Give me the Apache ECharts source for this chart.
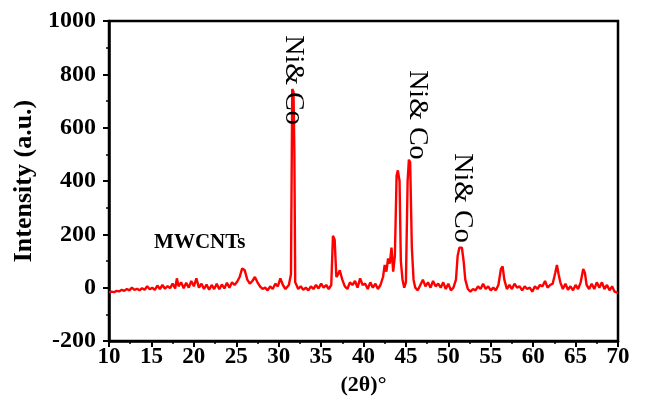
<!DOCTYPE html>
<html><head><meta charset="utf-8">
<script src="https://cdn.jsdelivr.net/npm/echarts@6/dist/echarts.min.js"></script>
<style>html,body{margin:0;padding:0;background:#fff}#c{width:650px;height:408px}</style>
</head><body><div id="c"></div>
<script>
// 2theta (degrees) and intensity (a.u.)
const twoTheta = [
10.0,10.3,10.6,10.9,11.2,11.5,11.8,12.1,12.4,12.7,13.0,13.3,13.6,13.9,14.2,14.5,14.8,15.1,15.4,15.7,
16.0,16.3,16.6,16.9,17.2,17.5,17.8,18.0,18.2,18.5,18.8,19.1,19.4,19.7,20.0,20.3,20.6,20.9,21.2,21.5,
21.8,22.1,22.4,22.7,23.0,23.3,23.6,23.9,24.2,24.5,24.8,25.1,25.4,25.7,26.0,26.3,26.6,26.9,27.2,27.5,
27.8,28.1,28.4,28.7,29.0,29.3,29.6,29.9,30.2,30.5,30.8,31.0,31.2,31.45,31.6,31.75,31.85,31.95,32.1,32.3,
32.6,32.9,33.2,33.5,33.8,34.1,34.4,34.7,35.0,35.3,35.6,35.9,36.2,36.4,36.6,36.8,37.0,37.2,37.5,37.8,
38.1,38.4,38.7,39.0,39.3,39.6,39.9,40.2,40.5,40.8,41.1,41.4,41.7,42.0,42.3,42.5,42.7,42.9,43.1,43.3,
43.5,43.7,43.9,44.05,44.25,44.4,44.6,44.8,45.0,45.2,45.35,45.5,45.7,45.9,46.1,46.4,46.7,47.0,47.3,47.6,
47.9,48.2,48.5,48.8,49.1,49.4,49.7,50.0,50.3,50.6,50.9,51.1,51.3,51.6,51.8,52.0,52.3,52.6,52.9,53.2,
53.5,53.8,54.1,54.4,54.7,55.0,55.3,55.6,55.9,56.2,56.4,56.6,56.9,57.2,57.5,57.8,58.1,58.4,58.7,59.0,
59.3,59.6,59.9,60.2,60.5,60.8,61.1,61.4,61.7,62.0,62.3,62.6,62.8,63.0,63.2,63.5,63.8,64.1,64.4,64.7,
65.0,65.3,65.6,65.9,66.1,66.3,66.6,66.9,67.2,67.5,67.8,68.1,68.4,68.7,69.0,69.3,69.6,70.0
];
const intensity = [
-18,-15,-17,-12,-14,-8,-12,-5,-10,0,-8,-4,-10,-2,-8,5,-6,0,-8,8,
-5,10,-4,6,-2,15,-3,35,5,20,-2,18,0,25,5,35,0,15,-5,12,
-8,10,-5,15,-6,12,-3,18,0,20,10,22,40,72,65,30,15,25,40,20,
5,-5,0,-10,5,-5,15,5,35,10,-5,0,10,50,745,735,510,20,10,-5,
5,-8,0,-10,5,-5,10,-3,15,0,10,-5,10,195,180,40,50,65,30,5,
-5,20,10,25,0,35,10,15,-5,20,0,15,-5,10,40,85,60,110,90,150,
60,120,420,440,400,100,30,0,20,400,480,470,150,30,0,-10,10,30,5,20,
0,25,5,15,0,20,-5,15,-10,0,30,120,150,150,100,30,-5,-15,-5,-10,
5,-5,15,-5,5,-10,0,-10,10,70,80,30,-5,10,-5,15,0,5,-10,5,
-5,0,-15,5,-5,10,5,25,0,10,15,55,85,50,20,-5,15,-8,5,-10,
10,-5,20,70,55,10,-5,15,-5,20,0,20,-5,10,-10,5,-15,-20
];
const xTicks = {min: 10, max: 70, interval: 5};
const yTicks = {min: -200, max: 1000, interval: 200};
const annotations = [
  {text: 'Ni& Co', at: [31.7, 779], rotate: true},
  {text: 'Ni& Co', at: [46.4, 648], rotate: true},
  {text: 'Ni& Co', at: [51.6, 336], rotate: true},
  {text: 'MWCNTs', at: [20.7, 168], rotate: false}
];

const font = '"Liberation Serif","Times New Roman",serif';
const chart = echarts.init(document.getElementById('c'), null, {renderer: 'canvas'});
const data = twoTheta.map((x, i) => [x, intensity[i]]);
chart.setOption({
  animation: false,
  backgroundColor: '#fff',
  grid: {left: 109, top: 21, width: 509, height: 320, show: true, borderColor: '#000', borderWidth: 2.5, backgroundColor: 'transparent'},
  xAxis: {
    type: 'value', min: xTicks.min, max: xTicks.max, interval: xTicks.interval,
    name: '(2θ)°', nameLocation: 'middle', nameGap: 29,
    nameTextStyle: {fontFamily: font, fontWeight: 'bold', fontSize: 22, color: '#000'},
    axisLine: {show: true, onZero: false, lineStyle: {color: '#000', width: 2.5}},
    axisTick: {show: true, inside: false, length: 6, lineStyle: {color: '#000', width: 2}},
    minorTick: {show: true, splitNumber: 2, length: 3, lineStyle: {color: '#000', width: 1.5}},
    axisLabel: {margin: 5, fontFamily: font, fontWeight: 'bold', fontSize: 23, color: '#000', formatter: v => String(v)},
    splitLine: {show: false}
  },
  yAxis: {
    type: 'value', min: yTicks.min, max: yTicks.max, interval: yTicks.interval,
    name: 'Intensity (a.u.)', nameLocation: 'middle', nameGap: 69,
    nameTextStyle: {fontFamily: font, fontWeight: 'bold', fontSize: 26, color: '#000'},
    axisLine: {show: true, onZero: false, lineStyle: {color: '#000', width: 2.5}},
    axisTick: {show: true, inside: false, length: 6, lineStyle: {color: '#000', width: 2}},
    minorTick: {show: true, splitNumber: 2, length: 3, lineStyle: {color: '#000', width: 1.5}},
    axisLabel: {margin: 13, fontFamily: font, fontWeight: 'bold', fontSize: 24, color: '#000', formatter: v => String(v)},
    splitLine: {show: false}
  },
  series: [{
    type: 'line', data: data, showSymbol: false, smooth: false,
    lineStyle: {color: '#ff0000', width: 2.4}, z: 1
  }]
});
const g = annotations.map(a => {
  const p = chart.convertToPixel({gridIndex: 0}, a.at);
  return {
    type: 'text', x: p[0], y: p[1], rotation: a.rotate ? -Math.PI / 2 : 0, z: 10,
    style: {text: a.text, fill: '#000', font: (a.rotate ? 'normal 28px ' : 'bold 21px ') + font,
      align: 'center', verticalAlign: 'middle'}
  };
});
chart.setOption({graphic: g});
</script></body></html>
